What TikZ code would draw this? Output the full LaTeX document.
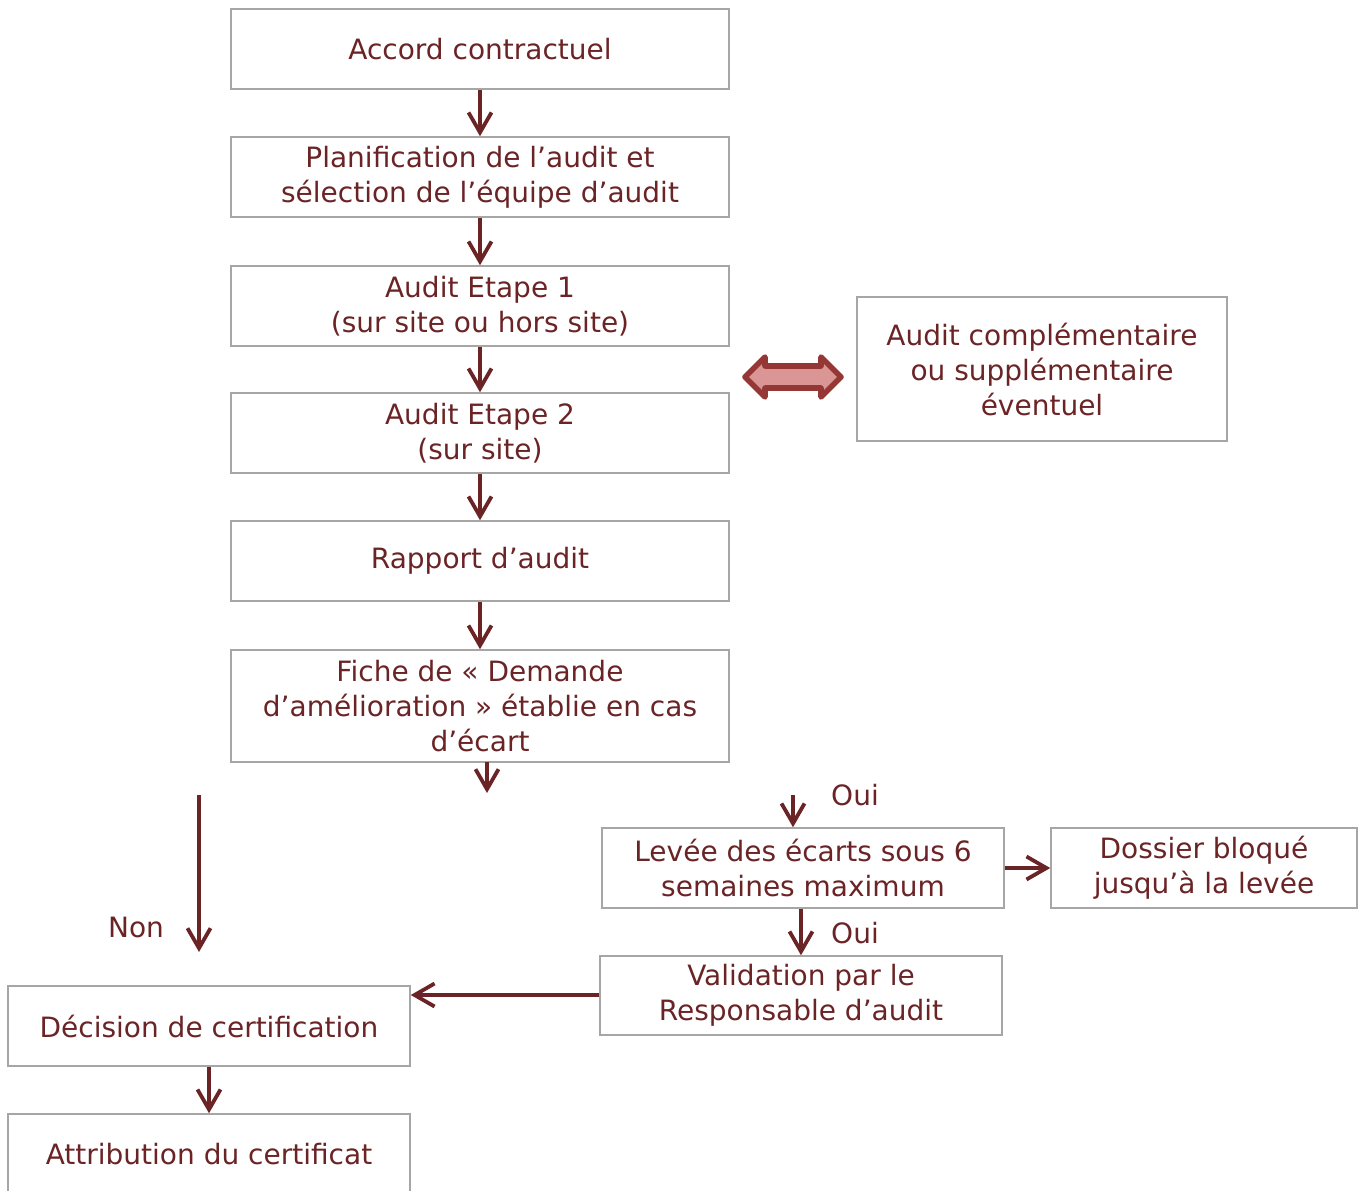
\documentclass[tikz,border=0pt]{standalone}
\usepackage{fontspec}
\setmainfont{DejaVu Sans}
\usetikzlibrary{arrows.meta}
\definecolor{txt}{HTML}{6B2426}
\definecolor{brd}{HTML}{A6A6A6}
\definecolor{dafill}{HTML}{D99694}
\definecolor{daline}{HTML}{953735}
\begin{document}
\begin{tikzpicture}[x=0.5pt,y=-0.5pt,
  box/.style={draw=brd, line width=0.75pt, inner sep=0pt, align=center, text=txt,
    font=\fontsize{14}{17.5}\selectfont},
  lbl/.style={text=txt, inner sep=0pt, font=\fontsize{14}{17.5}\selectfont},
  conn/.style={draw=txt, line width=1.9pt, -{Straight Barb[length=10pt,width=11.5pt,line width=1.9pt]}}]
\useasboundingbox (0,0) rectangle (1365,1190);
\node[box, minimum width=249pt, minimum height=40pt] (a) at (480,49) {Accord contractuel};
\node[box, minimum width=249pt, minimum height=40pt] (b) at (480,177) {Planification de l’audit et\\sélection de l’équipe d’audit};
\node[box, minimum width=249pt, minimum height=40pt] (c) at (480,306) {Audit Etape 1\\(sur site ou hors site)};
\node[box, minimum width=249pt, minimum height=40pt] (d) at (480,433) {Audit Etape 2\\(sur site)};
\node[box, minimum width=249pt, minimum height=40pt] (e) at (480,561) {Rapport d’audit};
\node[box, minimum width=249pt, minimum height=56pt] (f) at (480,706) {Fiche de « Demande\\d’amélioration » établie en cas\\d’écart};
\node[box, minimum width=185pt, minimum height=72pt] (g) at (1042,369) {Audit complémentaire\\ou supplémentaire\\éventuel};
\node[box, minimum width=201pt, minimum height=40pt] (h) at (803,868) {Levée des écarts sous 6\\semaines maximum};
\node[box, minimum width=153pt, minimum height=40pt] (i) at (1204,868) {Dossier bloqué\\jusqu’à la levée};
\node[box, minimum width=201pt, minimum height=39.5pt] (j) at (801,995.5) {Validation par le\\Responsable d’audit};
\node[box, minimum width=201pt, minimum height=40pt] (k) at (209,1026) {Décision de certification};
\node[box, minimum width=201pt, minimum height=40pt] (l) at (209,1154) {Attribution du certificat};

\draw[conn] (a) -- (b);
\draw[conn] (b) -- (c);
\draw[conn] (c) -- (d);
\draw[conn] (d) -- (e);
\draw[conn] (e) -- (f);
\coordinate (f1) at (487,762);
\coordinate (f2) at (487,793);
\draw[conn] (f1) -- (f2);
\coordinate (o1) at (793,795);
\draw[conn] (o1) -- (o1 |- h.north);
\node[lbl] (oui1) at (855,795) {Oui};
\coordinate (n1) at (199,795);
\coordinate (n2) at (199,952);
\draw[conn] (n1) -- (n2);
\node[lbl] (non) at (136,927) {Non};
\draw[conn] (h.east) -- (i.west);
\draw[conn] (j.north |- h.south) -- (j.north);
\node[lbl] (oui2) at (855,933) {Oui};
\coordinate (v1) at (0,995);
\draw[conn] (j.west |- v1) -- (k.east |- v1);
\draw[conn] (k) -- (l);
\draw[fill=dafill, draw=daline, line width=2.8pt, line join=round]
  (745,377) -- (765,357) -- (765,366) -- (821,366) -- (821,357) -- (841,377)
  -- (821,397) -- (821,388) -- (765,388) -- (765,397) -- cycle;
\end{tikzpicture}
\end{document}
